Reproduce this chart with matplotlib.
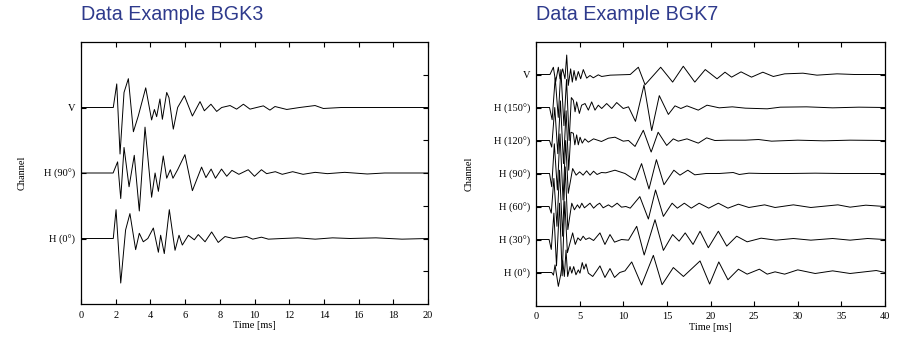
import matplotlib
matplotlib.use("Agg")
matplotlib.rcParams.update({
    "font.family": ["Liberation Serif", "DejaVu Serif"],
    "font.size": 7.5,
    "axes.linewidth": 0.9,
})

import matplotlib.pyplot as plt
import numpy as np

TITLE_COLOUR = "#2e3a8c"

# ---- BGK3: three channels, 0-20 ms, amplitudes in channel units ----
bgk3_labels = ["H (0°)", "H (90°)", "V"]

bgk3_t_v = [0, 1.86, 2.06, 2.25, 2.48, 2.73, 3.02, 3.3, 3.73, 4.07, 4.23, 4.36,
            4.55, 4.69, 4.94, 5.07, 5.32, 5.57, 5.96, 6.42, 6.86, 7.11, 7.49,
            7.82, 8.11, 8.59, 8.97, 9.36, 9.74, 10.12, 10.51, 10.89, 11.18,
            11.86, 12.6, 13.49, 13.97, 15.0, 17.0, 20.0]
bgk3_a_v = [0, 0, 0.36, -0.71, 0.23, 0.44, -0.37, -0.13, 0.30, -0.19, -0.03, -0.14,
            0.13, -0.18, 0.23, 0.15, -0.33, 0.0, 0.18, -0.13, 0.09, -0.05, 0.05,
            -0.06, 0.0, 0.03, -0.025, 0.05, -0.025, 0.0, 0.025, -0.04, 0.015,
            -0.03, 0.0, 0.03, -0.015, 0.0, 0.0, 0.0]

bgk3_t_h90 = [0, 1.85, 2.11, 2.29, 2.48, 2.77, 3.07, 3.36, 3.69, 4.07, 4.27, 4.46,
              4.74, 4.94, 5.15, 5.3, 5.57, 5.99, 6.42, 6.95, 7.2, 7.5, 7.75, 8.1,
              8.4, 8.7, 9.1, 9.64, 10.0, 10.4, 10.7, 11.2, 11.6, 12.2, 12.8,
              13.5, 14.2, 15.2, 16.5, 17.5, 20.0]
bgk3_a_h90 = [0, 0, 0.17, -0.39, 0.39, -0.21, 0.27, -0.58, 0.70, -0.37, 0.0, -0.28,
              0.26, -0.08, 0.05, -0.08, 0.05, 0.28, -0.27, 0.09, -0.07, 0.06, -0.08,
              0.06, -0.05, 0.04, -0.02, 0.05, -0.05, 0.05, -0.01, 0.02, -0.02,
              0.02, -0.02, 0.01, -0.01, 0.01, -0.015, 0.0, 0.0]

bgk3_t_h0 = [0, 1.86, 2.02, 2.29, 2.57, 2.82, 3.15, 3.36, 3.59, 3.85, 4.17, 4.46,
             4.59, 4.8, 5.09, 5.42, 5.65, 5.84, 6.19, 6.53, 6.76, 7.15, 7.53,
             7.91, 8.3, 8.78, 9.55, 9.9, 10.4, 10.8, 11.6, 12.5, 13.5, 14.5,
             15.5, 17.0, 18.5, 20.0]
bgk3_a_h0 = [0, 0, 0.44, -0.68, 0.13, 0.38, -0.17, 0.08, -0.05, 0.0, 0.16, -0.21,
             0.05, -0.23, 0.44, -0.18, 0.05, -0.1, 0.05, -0.02, 0.06, -0.05, 0.1,
             -0.06, 0.03, 0.0, 0.03, -0.01, 0.02, -0.01, 0.0, 0.01, -0.01, 0.01,
             0.0, 0.01, -0.01, 0.0]

# ---- BGK7: seven channels, 0-40 ms ----
bgk7_labels = ["H (0°)", "H (30°)", "H (60°)", "H (90°)", "H (120°)", "H (150°)", "V"]

bgk7_t_v = [0, 1.6, 1.99, 2.25, 2.56, 2.75, 3.06, 3.32, 3.52, 3.7, 3.97, 4.16,
            4.36, 4.58, 4.85, 5.12, 5.42, 5.81, 6.19, 6.57, 7.14, 7.53, 8.5,
            10.8, 11.73, 12.5, 14.29, 15.66, 16.88, 18.2, 19.4, 20.75, 21.66,
            22.42, 23.5, 24.7, 26.0, 27.2, 28.5, 30.6, 32.2, 34.5, 36.5, 40.0]
bgk7_a_v = [0, 0, 0.22, -0.23, 0.22, -0.13, 0.17, -0.13, 0.59, -0.33, 0.17, -0.23,
            0.12, -0.18, 0.09, -0.13, 0.15, -0.11, -0.03, -0.1, -0.01, -0.06, -0.02,
            0.0, 0.22, -0.31, 0.22, -0.23, 0.25, -0.23, 0.15, -0.13, 0.07,
            -0.08, 0.08, -0.08, 0.07, -0.06, 0.02, 0.04, -0.02, 0.02, 0.0, 0.0]

bgk7_t_h150 = [0, 1.55, 1.85, 2.2, 2.55, 2.85, 3.2, 3.5, 3.8, 4.05, 4.28, 4.48,
               4.66, 4.97, 5.23, 5.62, 6.0, 6.38, 6.76, 7.14, 7.53, 8.1, 8.68,
               9.25, 10.0, 10.6, 11.4, 12.38, 13.26, 14.13, 15.17, 15.93, 16.6,
               17.3, 18.6, 19.6, 21.0, 22.5, 24.0, 26.5, 28.0, 31.0, 34.0, 37.0, 40.0]
bgk7_a_h150 = [0, 0, -0.37, 0.9, -0.3, 1.15, -0.55, 0.85, -1.0, 0.3, 0.22, -0.13,
               0.17, -0.18, 0.07, 0.12, -0.08, 0.17, -0.08, 0.07, -0.03, 0.12, -0.03,
               0.15, -0.03, 0.02, -0.42, 0.68, -0.70, 0.36, -0.21, 0.05, -0.03,
               0.05, -0.08, 0.07, -0.01, 0.02, -0.02, -0.04, 0.01, 0.02, -0.01, 0.01, 0.0]

bgk7_t_h120 = [0, 1.55, 1.8, 2.15, 2.5, 2.8, 3.15, 3.45, 3.75, 4.0, 4.28, 4.45,
               4.66, 4.85, 5.05, 5.3, 5.6, 6.0, 6.6, 7.5, 8.3, 9.05, 10.0, 10.6,
               11.35, 12.3, 13.2, 14.0, 14.98, 15.74, 16.3, 17.3, 18.6, 19.56,
               20.5, 22.0, 24.0, 25.5, 27.0, 30.0, 33.0, 36.0, 40.0]
bgk7_a_h120 = [0, 0, -0.2, 1.0, -0.4, 1.2, -0.7, 0.9, -0.9, 0.25, 0.22, -0.13,
               0.17, -0.13, 0.1, -0.08, 0.05, -0.05, 0.05, -0.03, 0.07, 0.1, -0.02, 0.0,
               -0.18, 0.31, -0.35, 0.25, -0.15, 0.05, -0.02, 0.05, -0.08, 0.08,
               0.0, 0.01, 0.01, 0.03, -0.02, 0.01, -0.01, 0.01, 0.0]

bgk7_t_h90 = [0, 1.55, 1.8, 2.1, 2.45, 2.75, 3.1, 3.4, 3.7, 3.9, 4.2, 4.6, 5.0,
              5.4, 5.8, 6.2, 6.6, 7.0, 7.5, 8.0, 9.05, 10.2, 11.35, 12.1, 12.95,
              13.8, 14.67, 15.8, 16.5, 17.4, 18.2, 19.5, 21.0, 22.6, 23.3, 24.4,
              26.0, 29.0, 32.0, 35.0, 40.0]
bgk7_a_h90 = [0, 0, -0.4, 0.9, -0.5, 1.2, -0.8, 1.0, -0.6, -0.3, 0.15, -0.05, 0.05,
              -0.05, 0.08, -0.05, 0.07, -0.03, 0.03, 0.02, 0.1, 0.0, -0.2, 0.3, -0.47,
              0.42, -0.34, 0.1, -0.05, 0.1, -0.04, 0.0, 0.0, 0.03, -0.03, 0.01,
              0.0, 0.0, 0.01, 0.0, 0.0]

bgk7_t_h60 = [0, 1.5, 1.75, 2.05, 2.4, 2.7, 3.05, 3.35, 3.65, 3.9, 4.1, 4.4, 4.75,
              5.0, 5.25, 5.55, 6.19, 6.6, 7.0, 7.3, 7.7, 8.3, 8.7, 9.3, 9.8, 10.3,
              10.8, 11.9, 12.88, 13.7, 14.6, 15.6, 16.2, 17.0, 17.8, 18.7, 19.8,
              20.9, 22.0, 23.2, 24.4, 26.2, 27.4, 29.5, 31.5, 34.6, 36.0, 37.8, 40.0]
bgk7_a_h60 = [0, 0, -0.2, 0.85, -0.6, 1.1, -0.9, 1.2, -0.7, -0.25, 0.1, -0.1, 0.05,
              -0.05, 0.1, -0.04, 0.1, -0.05, 0.05, 0.1, -0.04, 0.05, -0.02, 0.1,
              -0.02, 0.0, -0.05, 0.3, -0.38, 0.5, -0.3, 0.1, -0.05, 0.1, -0.05,
              0.1, -0.05, 0.1, -0.05, 0.07, -0.03, 0.05, -0.03, 0.05, -0.03, 0.05,
              -0.02, 0.04, 0.0]

bgk7_t_h30 = [0, 1.5, 1.75, 2.05, 2.35, 2.7, 3.0, 3.3, 3.6, 3.9, 4.2, 4.5, 4.8,
              5.1, 5.4, 5.7, 6.1, 6.6, 7.33, 7.9, 8.48, 9.0, 9.8, 10.6, 11.54,
              12.4, 13.64, 14.6, 15.66, 16.4, 17.1, 18.0, 18.8, 19.75, 20.9,
              21.86, 23.0, 24.2, 25.8, 27.5, 29.5, 31.5, 34.0, 36.0, 38.0, 40.0]
bgk7_a_h30 = [0, 0, -0.3, 0.8, -0.8, 1.1, -1.1, 1.15, -0.4, -0.1, 0.2, -0.15, 0.05,
              -0.03, 0.1, 0.0, 0.05, -0.03, 0.2, -0.15, 0.15, -0.08, 0.0, -0.02, 0.4,
              -0.47, 0.6, -0.33, 0.15, -0.05, 0.2, -0.15, 0.25, -0.25, 0.25,
              -0.2, 0.1, -0.07, 0.04, -0.02, 0.03, -0.02, 0.03, -0.02, 0.03, 0.0]

bgk7_t_h0 = [0, 1.8, 2.0, 2.18, 2.56, 2.83, 3.06, 3.25, 3.44, 3.63, 3.9, 4.1, 4.32,
             4.58, 4.85, 5.04, 5.3, 5.5, 5.73, 6.0, 6.5, 6.95, 7.33, 7.9, 8.48,
             9.0, 9.6, 10.2, 10.97, 12.1, 13.45, 14.45, 15.74, 16.9, 18.8, 19.9,
             20.95, 22.0, 23.2, 24.2, 25.6, 26.5, 27.4, 28.5, 30.0, 32.0, 34.0,
             36.0, 39.0, 40.0]
bgk7_a_h0 = [0, 0, -0.08, 0.23, -0.42, -0.07, 0.36, -0.12, 0.68, -0.12, 0.18, -0.02,
             0.18, -0.07, 0.08, -0.02, 0.3, 0.1, 0.26, -0.02, -0.12, 0.05, 0.2,
             -0.15, 0.12, -0.15, 0.0, 0.05, 0.32, -0.38, 0.52, -0.37, 0.15, -0.12,
             0.35, -0.35, 0.32, -0.22, 0.1, -0.05, 0.1, -0.05, 0.02, -0.05, 0.08,
             -0.03, 0.05, -0.03, 0.06, 0.0]

bgk3_traces = [(bgk3_t_h0, bgk3_a_h0), (bgk3_t_h90, bgk3_a_h90), (bgk3_t_v, bgk3_a_v)]
bgk7_traces = [(bgk7_t_h0, bgk7_a_h0), (bgk7_t_h30, bgk7_a_h30),
               (bgk7_t_h60, bgk7_a_h60), (bgk7_t_h90, bgk7_a_h90),
               (bgk7_t_h120, bgk7_a_h120), (bgk7_t_h150, bgk7_a_h150),
               (bgk7_t_v, bgk7_a_v)]


def draw_panel(ax, traces, labels, t_max, x_step, title):
    for k, (t, a) in enumerate(traces):
        ax.plot(t, k + np.asarray(a), color="black", lw=0.7)

    n = len(traces)
    ax.set_xlim(0, t_max)
    ax.set_ylim(-1, n)
    ax.set_xticks(np.arange(0, t_max + 0.1, x_step))
    ax.set_yticks(range(n))
    ax.set_yticklabels(labels)
    ax.tick_params(direction="in", top=True, right=True, length=3.5,
                   width=0.8, pad=4, labelsize=7.5)
    ax.tick_params(axis="x", pad=5)
    ax.set_xlabel("Time [ms]", fontsize=7.5, labelpad=1)
    ax.set_ylabel("Channel", fontsize=7.5, labelpad=13)

    # blue heading sits above the frame, flush with its left edge
    x0 = ax.get_position().x0
    fig.text(x0, 1 - 20.5 / 348, title, ha="left", va="baseline",
             color=TITLE_COLOUR, fontsize=14.2,
             family=["Liberation Sans Narrow", "Liberation Sans", "DejaVu Sans"])


fig = plt.figure(figsize=(9.08, 3.48), dpi=100)

ax1 = fig.add_axes([81 / 908, 1 - 304 / 348, 347 / 908, 262 / 348])
draw_panel(ax1, bgk3_traces, bgk3_labels, 20, 2, "Data Example BGK3")
ax1.set_yticks(np.arange(-0.5, 3, 1.0), minor=True)
ax1.tick_params(which="minor", direction="in", left=False, right=True,
                length=3.5, width=0.8)

ax2 = fig.add_axes([536 / 908, 1 - 305.5 / 348, 349 / 908, 264 / 348])
draw_panel(ax2, bgk7_traces, bgk7_labels, 40, 5, "Data Example BGK7")
ax2.yaxis.labelpad = 15

plt.savefig("out.png", dpi=100)
